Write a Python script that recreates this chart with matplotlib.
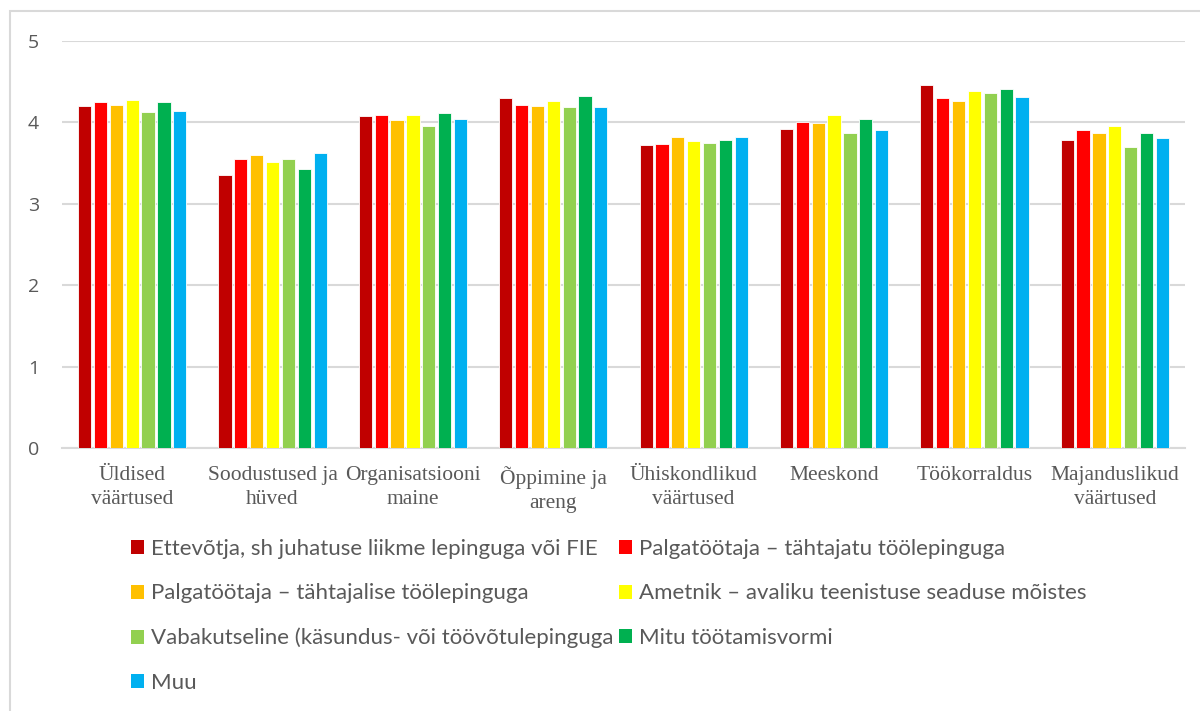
import matplotlib
matplotlib.use("Agg")
import matplotlib.pyplot as plt
import numpy as np
from matplotlib.patches import Rectangle, Patch

categories = ["Üldised\nväärtused", "Soodustused ja\nhüved", "Organisatsiooni\nmaine",
              "Õppimine ja\nareng", "Ühiskondlikud\nväärtused", "Meeskond",
              "Töökorraldus", "Majanduslikud\nväärtused"]
series_names = [
    "Ettevõtja, sh juhatuse liikme lepinguga või FIE",
    "Palgatöötaja – tähtajatu töölepinguga",
    "Palgatöötaja – tähtajalise töölepinguga",
    "Ametnik – avaliku teenistuse seaduse mõistes",
    "Vabakutseline (käsundus- või töövõtulepinguga",
    "Mitu töötamisvormi",
    "Muu",
]
ettevotja = [4.20, 3.35, 4.07, 4.29, 3.72, 3.91, 4.45, 3.78]
tahtajatu = [4.25, 3.55, 4.08, 4.21, 3.73, 4.00, 4.30, 3.90]
tahtajaline = [4.21, 3.59, 4.03, 4.20, 3.82, 3.99, 4.26, 3.87]
ametnik = [4.27, 3.51, 4.09, 4.26, 3.77, 4.08, 4.38, 3.95]
vabakutseline = [4.12, 3.54, 3.95, 4.18, 3.74, 3.86, 4.36, 3.69]
mitu = [4.25, 3.42, 4.11, 4.32, 3.78, 4.04, 4.41, 3.87]
muu = [4.13, 3.62, 4.04, 4.18, 3.81, 3.90, 4.31, 3.80]
series = [ettevotja, tahtajatu, tahtajaline, ametnik, vabakutseline, mitu, muu]
colors = ["#C00000", "#FF0000", "#FFC000", "#FFFF00", "#92D050", "#00B050", "#00B0F0"]
yticks = [0, 1, 2, 3, 4, 5]

W, H = 1200, 711
fig = plt.figure(figsize=(12, 7.11), dpi=100)
fig.patch.set_facecolor("white")

# outer frame
fig.add_artist(Rectangle((10 / W, -0.01), 1.2, (H - 11) / H + 0.01, transform=fig.transFigure,
                         fill=False, edgecolor="#D9D9D9", linewidth=1.5))

ax = fig.add_axes([62 / W, (H - 448) / H, (1185 - 62) / W, (448 - 40.5) / H])
x = np.arange(len(categories))
slot = 0.113
bw = 0.094
for i, (vals, c) in enumerate(zip(series, colors)):
    ax.bar(x + (i - 3) * slot, vals, width=bw, color=c, edgecolor="white", linewidth=0.6,
           label=series_names[i], zorder=3)

ax.set_ylim(0, 5)
ax.set_xlim(-0.5, len(categories) - 0.5)
ax.set_yticks(yticks)
ax.set_yticklabels([str(t) for t in yticks], fontsize=14, color="#595959", family="Open Sans")
ax.yaxis.grid(True, color="#D9D9D9", linewidth=1.5, zorder=0)
ax.set_xticks(x)
ax.set_xticklabels(categories, fontsize=15.5, color="#595959", family="Liberation Serif",
                   linespacing=1.38)
ax.tick_params(axis="both", length=0)
ax.tick_params(axis="y", pad=16.5)
ax.tick_params(axis="x", pad=13)
for s in ["top", "right", "left"]:
    ax.spines[s].set_visible(False)
ax.spines["bottom"].set_color("#D9D9D9")
ax.spines["bottom"].set_linewidth(1.5)

handles = [Patch(facecolor=c, edgecolor="none") for c in colors]
left_idx = [0, 2, 4, 6]
right_idx = [1, 3, 5]
common = dict(frameon=False, labelcolor="#595959", handlelength=0.58,
              handleheight=0.58, handletextpad=0.33, labelspacing=1.1, borderpad=0,
              borderaxespad=0, prop={"family": "Lato", "size": 16})
leg1 = fig.legend([handles[i] for i in left_idx], [series_names[i] for i in left_idx],
                  loc="upper left", bbox_to_anchor=(131 / W, 1 - 539 / H), **common)
leg2 = fig.legend([handles[i] for i in right_idx], [series_names[i] for i in right_idx],
                  loc="upper left", bbox_to_anchor=(619 / W, 1 - 539 / H), **common)

fig.savefig("out.png", dpi=100, facecolor="white")
